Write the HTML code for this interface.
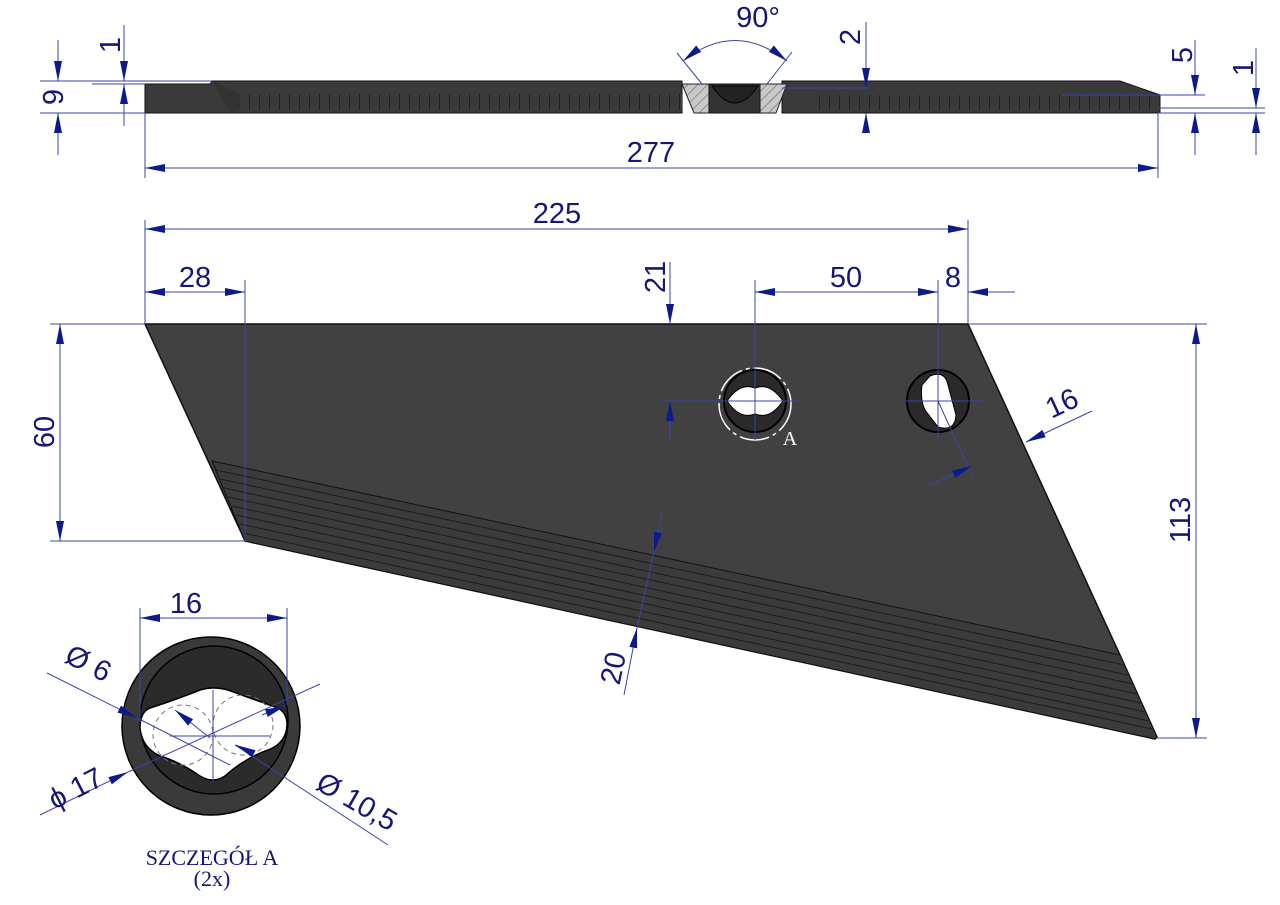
<!DOCTYPE html>
<html><head><meta charset="utf-8"><style>
html,body{margin:0;padding:0;background:#fff}
svg{display:block}
.d{stroke:#3a44a8;stroke-width:1;fill:none}
.t{font-family:"Liberation Sans",sans-serif;font-size:29px;fill:#15157a}
.s{font-family:"Liberation Serif",serif;font-size:22px;fill:#15157a}
</style></head><body>
<svg width="1280" height="905" viewBox="0 0 1280 905" xmlns="http://www.w3.org/2000/svg">
<defs>
<marker id="a" viewBox="0 0 20 8" refX="20" refY="4" markerWidth="20" markerHeight="8" markerUnits="userSpaceOnUse" orient="auto-start-reverse"><path d="M0,0L20,4L0,8z" fill="#0d1a8c"/></marker>
<pattern id="h" width="7" height="7" patternUnits="userSpaceOnUse" patternTransform="rotate(45)"><rect width="7" height="7" fill="#c8c8c8"/><line x1="0" y1="0" x2="0" y2="7" stroke="#555" stroke-width="1"/></pattern>
<pattern id="tk" width="10" height="20" patternUnits="userSpaceOnUse"><rect width="10" height="20" fill="#3a3a3a"/><line x1="9.5" y1="0" x2="9.5" y2="20" stroke="#222" stroke-width="1"/></pattern>
</defs>

<!-- TOP VIEW -->
<path d="M145,84 L210,84 L212,81 L682,81 L682,113 L145,113Z" fill="#3a3a3a" stroke="#111"/>
<path d="M782,81 L1120,81 L1160,95 L1160,113 L782,113Z" fill="#3a3a3a" stroke="#111"/>
<rect x="240" y="94" width="442" height="16" fill="url(#tk)"/>
<rect x="810" y="95" width="345" height="15" fill="url(#tk)"/>
<path d="M212,81 L240,94 L240,110 L230,113 Z" fill="#333"/>
<path d="M682,84 L709,84 L709,113 L694,113Z" fill="url(#h)" stroke="#222"/>
<path d="M760,84 L787,84 L776,113 L760,113Z" fill="url(#h)" stroke="#222"/>
<path d="M709,84 L760,84 L760,113 L709,113Z" fill="#333" stroke="#111"/>
<path d="M712,86 Q735,120 758,86Z" fill="#222" stroke="#000"/>
<!-- top dims -->
<line class="d" x1="40" y1="81" x2="212" y2="81"/>
<line class="d" x1="40" y1="113" x2="145" y2="113"/>
<line class="d" x1="58" y1="40" x2="58" y2="81" marker-end="url(#a)"/>
<line class="d" x1="58" y1="155" x2="58" y2="113" marker-end="url(#a)"/>
<text class="t" transform="translate(53,97) rotate(-90)" text-anchor="middle" dy="10">9</text>
<line class="d" x1="92" y1="84" x2="145" y2="84"/>
<line class="d" x1="124" y1="25" x2="124" y2="81" marker-end="url(#a)"/>
<line class="d" x1="124" y1="126" x2="124" y2="84" marker-end="url(#a)"/>
<text class="t" transform="translate(110,45) rotate(-90)" text-anchor="middle" dy="10">1</text>
<line class="d" x1="145" y1="113" x2="145" y2="178"/>
<line class="d" x1="1158" y1="113" x2="1158" y2="178"/>
<line class="d" x1="145" y1="168" x2="1158" y2="168" marker-start="url(#a)" marker-end="url(#a)"/>
<text class="t" x="651" y="162" text-anchor="middle">277</text>
<line class="d" x1="677" y1="53" x2="702" y2="84"/>
<line class="d" x1="792" y1="52" x2="767" y2="84"/>
<path class="d" d="M683,61 Q735,20 787,61" marker-start="url(#a)" marker-end="url(#a)"/>
<text class="t" x="758" y="27" text-anchor="middle">90°</text>
<line class="d" x1="782" y1="88" x2="870" y2="88"/>
<line class="d" x1="866" y1="22" x2="866" y2="88" marker-end="url(#a)"/>
<line class="d" x1="866" y1="133" x2="866" y2="113" marker-end="url(#a)"/>
<text class="t" transform="translate(850,37) rotate(-90)" text-anchor="middle" dy="10">2</text>
<line class="d" x1="1062" y1="95" x2="1205" y2="95"/>
<line class="d" x1="1158" y1="113" x2="1265" y2="113"/>
<line class="d" x1="1158" y1="108" x2="1265" y2="108"/>
<line class="d" x1="1195" y1="40" x2="1195" y2="95" marker-end="url(#a)"/>
<line class="d" x1="1195" y1="155" x2="1195" y2="113" marker-end="url(#a)"/>
<text class="t" transform="translate(1182,55) rotate(-90)" text-anchor="middle" dy="10">5</text>
<line class="d" x1="1256" y1="48" x2="1256" y2="108" marker-end="url(#a)"/>
<line class="d" x1="1256" y1="155" x2="1256" y2="113" marker-end="url(#a)"/>
<text class="t" transform="translate(1243,68) rotate(-90)" text-anchor="middle" dy="10">1</text>

<!-- MAIN PLATE -->
<path d="M145,324 L968,324 L1120,655 L1157,737 L1155,739 L245,541 Z" fill="#414141" stroke="#111" stroke-width="1.5"/>
<path d="M212,461 L1120,655 L1157,737 L1155,739 L245,541Z" fill="#3b3b3b" stroke="#111"/>
<g stroke="#1e1e1e" stroke-width="1">
<line x1="216" y1="470" x2="1124" y2="665"/>
<line x1="220" y1="479" x2="1128" y2="675"/>
<line x1="224" y1="488" x2="1133" y2="684"/>
<line x1="228" y1="497" x2="1137" y2="694"/>
<line x1="232" y1="506" x2="1141" y2="703"/>
<line x1="236" y1="515" x2="1145" y2="712"/>
<line x1="240" y1="524" x2="1149" y2="721"/>
<line x1="243" y1="533" x2="1152" y2="729"/>
</g>
<!-- hole A -->
<circle cx="755" cy="401" r="31" fill="#2a2a2a" stroke="#000" stroke-width="2"/>
<path d="M727,401 Q740,382 755,388 Q770,382 783,401 Q770,420 755,414 Q740,420 727,401Z" fill="#fff" stroke="#000"/>
<circle cx="755" cy="404" r="36" fill="none" stroke="#fff" stroke-width="1.5" stroke-dasharray="30 4 4 4"/>
<text x="790" y="445" font-family="Liberation Serif,serif" font-size="20" fill="#fff" text-anchor="middle">A</text>
<!-- hole 2 -->
<circle cx="938" cy="401" r="31" fill="#2a2a2a" stroke="#000" stroke-width="2"/>
<path d="M930,376 Q945,370 948,385 L956,415 Q955,432 938,427 L925,410 Q920,400 922,385Z" fill="#fff" stroke="#000"/>
<!-- main dims -->
<line class="d" x1="145" y1="220" x2="145" y2="324"/>
<line class="d" x1="968" y1="220" x2="968" y2="324"/>
<line class="d" x1="145" y1="229" x2="968" y2="229" marker-start="url(#a)" marker-end="url(#a)"/>
<text class="t" x="557" y="223" text-anchor="middle">225</text>
<line class="d" x1="245" y1="280" x2="245" y2="541"/>
<line class="d" x1="145" y1="292" x2="245" y2="292" marker-start="url(#a)" marker-end="url(#a)"/>
<text class="t" x="195" y="287" text-anchor="middle">28</text>
<line class="d" x1="670" y1="262" x2="670" y2="324" marker-end="url(#a)"/>
<line class="d" x1="670" y1="442" x2="670" y2="401" marker-end="url(#a)"/>
<line class="d" x1="662" y1="401" x2="798" y2="401"/>
<line class="d" x1="906" y1="401" x2="982" y2="401"/>
<text class="t" transform="translate(655,277) rotate(-90)" text-anchor="middle" dy="10">21</text>
<line class="d" x1="755" y1="280" x2="755" y2="440"/>
<line class="d" x1="938" y1="280" x2="938" y2="440"/>
<line class="d" x1="968" y1="280" x2="968" y2="324"/>
<line class="d" x1="755" y1="292" x2="938" y2="292" marker-start="url(#a)" marker-end="url(#a)"/>
<line class="d" x1="1015" y1="292" x2="968" y2="292" marker-end="url(#a)"/>
<text class="t" x="846" y="287" text-anchor="middle">50</text>
<text class="t" x="953" y="287" text-anchor="middle">8</text>
<line class="d" x1="968" y1="324" x2="1207" y2="324"/>
<line class="d" x1="1157" y1="738" x2="1207" y2="738"/>
<line class="d" x1="1196" y1="324" x2="1196" y2="738" marker-start="url(#a)" marker-end="url(#a)"/>
<text class="t" transform="translate(1180,520) rotate(-90)" text-anchor="middle" dy="10">113</text>
<line class="d" x1="50" y1="324" x2="145" y2="324"/>
<line class="d" x1="50" y1="541" x2="245" y2="541"/>
<line class="d" x1="60" y1="324" x2="60" y2="541" marker-start="url(#a)" marker-end="url(#a)"/>
<text class="t" transform="translate(44,432) rotate(-90)" text-anchor="middle" dy="10">60</text>
<line class="d" x1="938" y1="401" x2="973" y2="478"/>
<line class="d" x1="930" y1="485" x2="972" y2="466" marker-end="url(#a)"/>
<line class="d" x1="1092" y1="411" x2="1026" y2="442" marker-end="url(#a)"/>
<text class="t" transform="translate(1066,412) rotate(-25)" text-anchor="middle">16</text>
<line class="d" x1="662" y1="512" x2="654" y2="552" marker-end="url(#a)"/>
<line class="d" x1="624" y1="695" x2="637" y2="628" marker-end="url(#a)"/>
<line class="d" x1="654" y1="552" x2="637" y2="628"/>
<text class="t" transform="translate(613,668) rotate(-78)" text-anchor="middle" dy="10">20</text>

<!-- DETAIL A -->
<circle cx="211" cy="726" r="89" fill="#3a3a3a" stroke="#000" stroke-width="1.5"/>
<circle cx="214" cy="720" r="74" fill="#2b2b2b" stroke="#000" stroke-width="1.5"/>
<path d="M140,728 Q140,712 150,708 Q175,700 200,690 Q213,686 228,690 Q255,700 278,708 Q290,715 286,732 Q282,745 268,750 Q245,758 225,776 Q213,784 200,776 Q180,762 160,756 Q142,748 140,728Z" fill="#fff" stroke="#000" stroke-width="1.5"/>
<g stroke="#777" stroke-dasharray="5 4" fill="none" stroke-width="1">
<circle cx="183" cy="735" r="30"/><circle cx="243" cy="725" r="30"/>
</g>
<line class="d" x1="140" y1="608" x2="140" y2="722"/>
<line class="d" x1="287" y1="608" x2="287" y2="705"/>
<line class="d" x1="140" y1="618" x2="287" y2="618" marker-start="url(#a)" marker-end="url(#a)"/>
<text class="t" x="186" y="613" text-anchor="middle">16</text>
<line class="d" x1="170" y1="736" x2="270" y2="736"/>
<line class="d" x1="213" y1="690" x2="213" y2="782"/>
<line class="d" x1="47" y1="673" x2="137" y2="718" marker-end="url(#a)"/>
<line class="d" x1="137" y1="718" x2="230" y2="765"/>
<line class="d" x1="175" y1="710" x2="210" y2="738" marker-start="url(#a)"/>
<line class="d" x1="40" y1="815" x2="128" y2="772" marker-end="url(#a)"/>
<line class="d" x1="128" y1="772" x2="320" y2="684"/>
<line class="d" x1="285" y1="706" x2="262" y2="715" marker-start="url(#a)"/>
<line class="d" x1="235" y1="745" x2="388" y2="845"/>
<line class="d" x1="250" y1="752" x2="236" y2="745" marker-end="url(#a)"/>
<text class="t" transform="translate(84,672) rotate(27)" text-anchor="middle">Ø 6</text>
<text class="t" transform="translate(80,797) rotate(-27)" text-anchor="middle">ϕ 17</text>
<text class="t" transform="translate(352,810) rotate(30)" text-anchor="middle">Ø 10,5</text>
<text class="s" x="212" y="865" text-anchor="middle">SZCZEGÓŁ A</text>
<text class="s" x="212" y="886" text-anchor="middle">(2x)</text>
</svg>
</body></html>
